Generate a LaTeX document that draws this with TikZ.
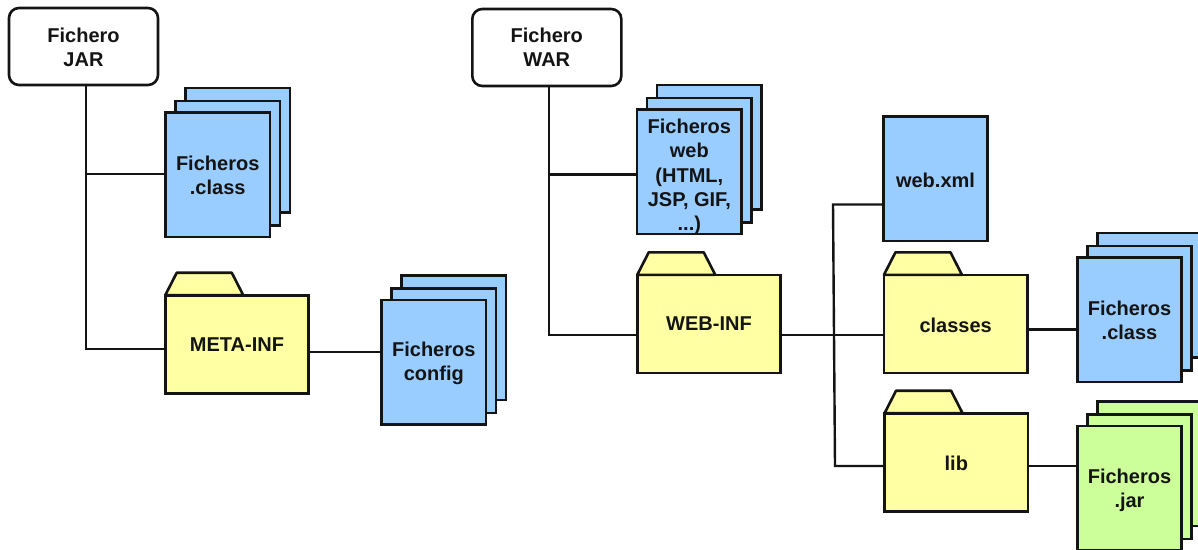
\documentclass[tikz,border=0pt]{standalone}
\usepackage{fontspec}
\setmainfont{Liberation Sans}
\definecolor{fileblue}{HTML}{99CCFF}
\definecolor{filegreen}{HTML}{CCFF99}
\definecolor{folderyellow}{HTML}{FFFFA3}
\definecolor{inkdark}{HTML}{141414}
\tikzset{
  base/.style={draw=inkdark,line width=2.6pt,outer sep=0pt,inner sep=0pt},
  labeltext/.style={inner sep=0pt,align=center,text=inkdark,
    font=\fontsize{20}{24.3}\selectfont\bfseries},
  filebox/.style={base,minimum width=104.5pt,minimum height=124.5pt},
  rootbox/.style={base,rounded corners=10pt,fill=white,minimum width=149pt,minimum height=77pt},
  folderbody/.style={base,fill=folderyellow,minimum width=143.5pt,minimum height=98pt},
  foldertab/.style={draw=inkdark,line width=2.6pt,fill=folderyellow,line join=round},
  link/.style={draw=inkdark,line width=2.4pt,line join=miter}
}
% name, centre x, centre y, colour, text, text centre y
\newcommand{\filestack}[6]{%
  \node[filebox,fill=#4] (#1back) at (#2+20,#3-24.5) {};
  \node[filebox,fill=#4] (#1mid) at (#2+10,#3-11.5) {};
  \node[filebox,fill=#4] (#1) at (#2,#3) {};
  \node[labeltext] (#1label) at (#2,#6) {#5};
}
% name, centre x, centre y, text, text centre y
\newcommand{\foldernode}[5]{%
  \node[folderbody] (#1) at (#2,#3) {};
  \node[labeltext] (#1label) at (#2,#5) {#4};
  \draw[foldertab] (#1.north west) -- ++(11.5,-22.5) -- ++(55,0) -- ++(11.5,22.5) -- cycle;
}
\begin{document}
\begin{tikzpicture}[x=1pt,y=-1pt]
\clip (0,0) rectangle (1198,549);
\fill[white] (0,0) rectangle (1198,549);

% junctions
\coordinate (jarspine) at (86,174);
\coordinate (jarend) at (86,349);
\coordinate (warspine) at (549,174.5);
\coordinate (warend) at (549,335);
\coordinate (bustop) at (833,204.5);
\coordinate (busmid) at (834,334.8);
\coordinate (busend) at (835,466);
\coordinate (metaout) at (345,351.7);
\coordinate (classout) at (1050,329.3);
\coordinate (libout) at (1050,466);

% Left: JAR
\node[rootbox] (jar) at (83.5,46.5) {};
\node[labeltext] (jarlabel) at (83.5,47.5) {Fichero\\JAR};
\filestack{jarclass}{217.7}{174.8}{fileblue}{Ficheros\\.class}{175.5}
\foldernode{meta}{237}{344.2}{META-INF}{345}
\filestack{config}{433.8}{362.3}{fileblue}{Ficheros\\config}{363.5}

\draw[link] (jar.south -| jarend) -- (jarend) -- (jarend -| meta.west);
\draw[link] (jarspine) -- (jarspine -| jarclass.west);
\draw[link] (metaout -| meta.east) -- (metaout -| config.west);

% Right: WAR
\node[rootbox] (war) at (546.8,47.5) {};
\node[labeltext] (warlabel) at (546.8,47.2) {Fichero\\WAR};
\filestack{web}{689.3}{171.8}{fileblue}{Ficheros\\web\\(HTML,\\JSP, GIF,\\...)}{177}
\foldernode{webinf}{709}{323.8}{WEB-INF}{324}
\node[filebox,fill=fileblue] (webxml) at (935.5,178.7) {};
\node[labeltext] (webxmllabel) at (935.5,180.5) {web.xml};
\foldernode{classes}{955.7}{323.8}{classes}{325}
\filestack{classfiles}{1129.5}{319.7}{fileblue}{Ficheros\\.class}{320.5}
\foldernode{lib}{956.3}{462.2}{lib}{463}
\filestack{jars}{1129.5}{488.2}{filegreen}{Ficheros\\.jar}{490}

\draw[link] (war.south -| warend) -- (warend) -- (warend -| webinf.west);
\draw[link] (warspine) -- (warspine -| web.west);
\draw[link] (busmid -| webinf.east) -- (busmid -| classes.west);
\draw[link] (webxml.west |- bustop) -- (bustop) -- (busend) -- (busend -| lib.west);
\draw[link] (classout -| classes.east) -- (classout -| classfiles.west);
\draw[link] (libout -| lib.east) -- (libout -| jars.west);
\end{tikzpicture}
\end{document}
